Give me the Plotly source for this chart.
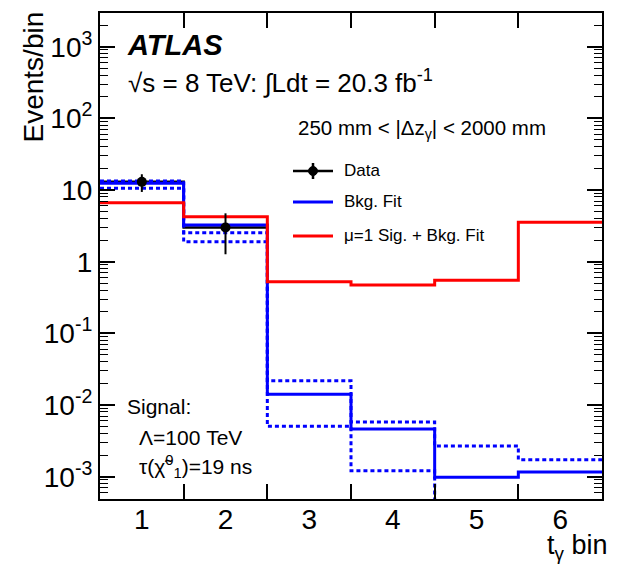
import plotly.graph_objects as go

# ---------------- data ----------------
bin_edges = [0.5, 1.5, 2.5, 3.5, 4.5, 5.5, 6.5]
bin_centers = [1, 2, 3, 4, 5, 6]
tick_labels = ["1", "2", "3", "4", "5", "6"]

data_x = [1, 2]
data_y = [13, 3]
data_err_up = [3.6, 1.73]
data_err_dn = [3.6, 1.73]

bkg_fit = [12.4, 3.25, 0.0141, 0.00463, 0.00098, 0.00116]
bkg_up = [13.4, 2.54, 0.0219, 0.0058, 0.00268, 0.00173]
bkg_dn = [10.6, 1.90, 0.00505, 0.00121, 0.0001, 0.0001]
sig_bkg_fit = [6.65, 4.25, 0.526, 0.473, 0.55, 3.55]

ytick_vals = [1e-3, 1e-2, 1e-1, 1, 10, 1e2, 1e3]
ytick_text = ["10<sup>-3</sup>", "10<sup>-2</sup>", "10<sup>-1</sup>", "1", "10",
              "10<sup>2</sup>", "10<sup>3</sup>"]

FONT = "Liberation Sans, Arial, Helvetica, sans-serif"
BLUE = "#0000ff"
RED = "#ff0000"

# plot area in pixels
L, R, T, B = 100, 602, 13, 499
W, H = 619, 566
XRANGE = [bin_edges[0], bin_edges[-1]]
YRANGE = [-3.311, 3.470]


def xp(px):
    return (px - L) / (R - L)


def yp(py):
    return (B - py) / (B - T)


def step(vals, edges):
    return list(edges), list(vals) + [vals[-1]]


fig = go.Figure()

# data histogram (black) for filled bins
dx_edges = bin_edges[:len(data_y) + 1]
sx, sy = step(data_y, dx_edges)
fig.add_trace(go.Scatter(x=sx, y=sy, mode="lines", line=dict(color="black", width=2.5, shape="hv"),
                         showlegend=False, hoverinfo="skip"))

# background fit uncertainty (dotted)
for arr in (bkg_up, bkg_dn):
    sx, sy = step(arr, bin_edges)
    fig.add_trace(go.Scatter(x=sx, y=sy, mode="lines",
                             line=dict(color=BLUE, width=3, shape="hv", dash="4px,3px"),
                             showlegend=False, hoverinfo="skip"))

# background fit
sx, sy = step(bkg_fit, bin_edges)
fig.add_trace(go.Scatter(x=sx, y=sy, mode="lines", line=dict(color=BLUE, width=3, shape="hv"),
                         showlegend=False))

# signal + background fit (on the overlaid right y axis, identical range)
sx, sy = step(sig_bkg_fit, bin_edges)
fig.add_trace(go.Scatter(x=sx, y=sy, mode="lines", line=dict(color=RED, width=3, shape="hv"),
                         showlegend=False, xaxis="x", yaxis="y2"))

# data points (on the overlaid top x axis, identical range)
fig.add_trace(go.Scatter(x=data_x, y=data_y, mode="markers",
                         marker=dict(color="black", size=10, symbol="circle"),
                         error_y=dict(type="data", array=data_err_up, arrayminus=data_err_dn,
                                      color="black", thickness=2, width=0),
                         showlegend=False, xaxis="x2", yaxis="y"))

# ---------------- legend (manual) ----------------
shapes = []
leg_x0, leg_x1 = 293, 333
leg_rows = [171, 202, 236]
shapes.append(dict(type="line", xref="paper", yref="paper", x0=xp(leg_x0), x1=xp(leg_x1),
                   y0=yp(leg_rows[0]), y1=yp(leg_rows[0]), line=dict(color="black", width=2.5)))
shapes.append(dict(type="line", xref="paper", yref="paper", x0=xp(313), x1=xp(313),
                   y0=yp(leg_rows[0] - 8), y1=yp(leg_rows[0] + 8), line=dict(color="black", width=2.5)))
shapes.append(dict(type="circle", xref="paper", yref="paper", x0=xp(308.5), x1=xp(317.5),
                   y0=yp(leg_rows[0] - 4.5), y1=yp(leg_rows[0] + 4.5),
                   fillcolor="black", line=dict(color="black", width=1)))
shapes.append(dict(type="line", xref="paper", yref="paper", x0=xp(leg_x0), x1=xp(leg_x1),
                   y0=yp(leg_rows[1]), y1=yp(leg_rows[1]), line=dict(color=BLUE, width=3)))
shapes.append(dict(type="line", xref="paper", yref="paper", x0=xp(leg_x0), x1=xp(leg_x1),
                   y0=yp(leg_rows[2]), y1=yp(leg_rows[2]), line=dict(color=RED, width=3)))

leg_labels = ["Data", "Bkg. Fit", "μ=1 Sig. + Bkg. Fit"]

annotations = []
for lab, row in zip(leg_labels, leg_rows):
    annotations.append(dict(text=lab, xref="paper", yref="paper", x=xp(342), y=yp(row),
                            xanchor="left", yanchor="middle", showarrow=False,
                            font=dict(family=FONT, size=17, color="black")))

annotations += [
    dict(text="<b><i>ATLAS</i></b>", xref="paper", yref="paper", x=xp(125), y=yp(45),
         xanchor="left", yanchor="middle", showarrow=False,
         font=dict(family=FONT, size=29, color="black")),
    dict(text="√s = 8 TeV: ∫Ldt = 20.3 fb<sup>-1</sup>", xref="paper", yref="paper",
         x=xp(126), y=yp(81), xanchor="left", yanchor="middle", showarrow=False,
         font=dict(family=FONT, size=26, color="black")),
    dict(text="250 mm < |Δz<sub>γ</sub>| < 2000 mm", xref="paper", yref="paper",
         x=xp(296), y=yp(129), xanchor="left", yanchor="middle", showarrow=False,
         font=dict(family=FONT, size=20.5, color="black")),
    dict(text="Signal:", xref="paper", yref="paper", x=xp(125), y=yp(406),
         xanchor="left", yanchor="middle", showarrow=False,
         font=dict(family=FONT, size=21, color="black")),
    dict(text="Λ=100 TeV", xref="paper", yref="paper", x=xp(137), y=yp(437),
         xanchor="left", yanchor="middle", showarrow=False,
         font=dict(family=FONT, size=21, color="black")),
    dict(text="τ(χ̃<sup>0</sup><sub>1</sub>)=19 ns", xref="paper", yref="paper", x=xp(137), y=yp(466),
         xanchor="left", yanchor="middle", showarrow=False,
         font=dict(family=FONT, size=21, color="black")),
    dict(text="Events/bin", xref="paper", yref="paper", x=xp(33), y=yp(10),
         xanchor="center", yanchor="top", textangle=-90, showarrow=False,
         font=dict(family=FONT, size=28, color="black")),
    dict(text="t<sub>γ</sub> bin", xref="paper", yref="paper", x=xp(610), y=yp(547),
         xanchor="right", yanchor="middle", showarrow=False,
         font=dict(family=FONT, size=27, color="black")),
]

common_y = dict(type="log", range=YRANGE, tickmode="array", tickvals=ytick_vals,
                ticks="inside", ticklen=15, tickwidth=1.5, tickcolor="black",
                showgrid=False, zeroline=False, automargin=False,
                minor=dict(ticks="inside", ticklen=8, tickwidth=1.2, tickcolor="black",
                           dtick="D1", showgrid=False))

fig.update_layout(
    width=W, height=H,
    margin=dict(l=L, r=W - R, t=T, b=H - B, pad=0, autoexpand=False),
    paper_bgcolor="white", plot_bgcolor="white",
    showlegend=False,
    shapes=shapes, annotations=annotations,
    font=dict(family=FONT, color="black"),
    xaxis=dict(range=XRANGE, tickmode="array",
               tickvals=bin_centers, ticktext=tick_labels, ticks="",
               showline=True, linecolor="black", linewidth=2, mirror=True,
               showgrid=False, zeroline=False, automargin=False,
               ticklabelstandoff=-6,
               tickfont=dict(family=FONT, size=28, color="black"),
               minor=dict(tickmode="array", tickvals=bin_edges[1:-1], ticks="inside",
                          ticklen=15, tickwidth=1.5, tickcolor="black", showgrid=False)),
    xaxis2=dict(range=XRANGE, overlaying="x", side="top", anchor="y",
                tickmode="array", tickvals=bin_edges[1:-1], ticks="inside", ticklen=15,
                tickwidth=1.5, tickcolor="black", showticklabels=False,
                showline=False, showgrid=False, zeroline=False, automargin=False),
    yaxis=dict(common_y, ticktext=ytick_text, showline=True, linecolor="black", linewidth=2,
               mirror=True, tickfont=dict(family=FONT, size=28, color="black")),
    yaxis2=dict(common_y, overlaying="y", side="right", anchor="x",
                showticklabels=False, showline=False),
)

fig.write_html("out.html", config={"displayModeBar": False},
               post_script="document.body.style.margin='0';")
